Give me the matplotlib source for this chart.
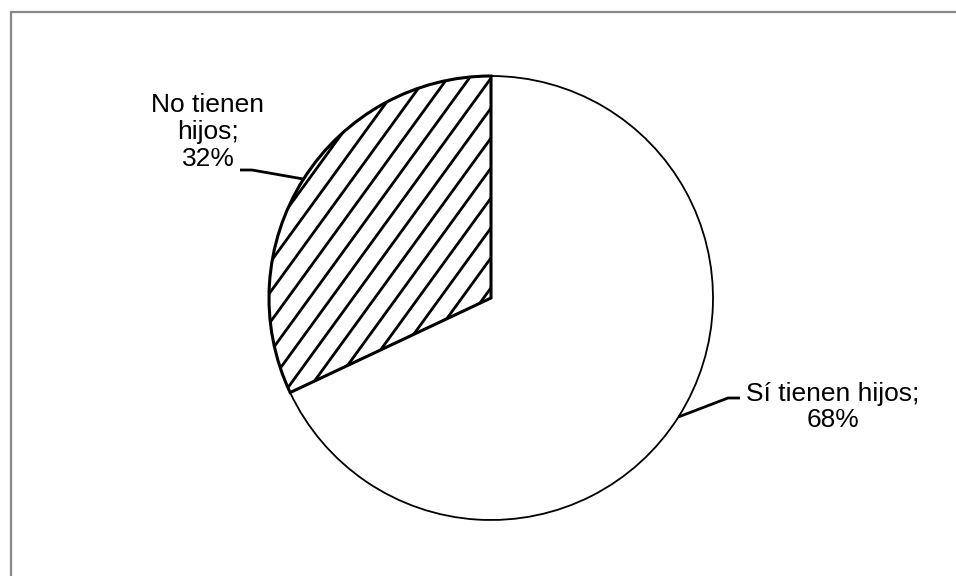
import numpy as np
import matplotlib.pyplot as plt
from matplotlib.patches import Rectangle

# Data
categories = ['Sí tienen hijos', 'No tienen hijos']
shares = [68, 32]
label_texts = ['Sí tienen hijos;\n68%', 'No tienen\nhijos;\n32%']

fig = plt.figure(figsize=(9.56, 5.76), dpi=100)
ax = fig.add_axes([0, 0, 1, 1])

cx, cy, r = 491, 278, 222
wedges, _ = ax.pie(shares, startangle=90, counterclock=False,
                   center=(cx, cy), radius=r,
                   colors=['white', 'white'],
                   wedgeprops=dict(edgecolor='black', linewidth=1.3))
wedges[1].set_linewidth(2.2)
wedges[1].set_zorder(3)
wedges[1].set_facecolor('none')

# hatch lines at the steeper angle of the original
ang = np.deg2rad(54)
d = np.array([np.cos(ang), np.sin(ang)])
n = np.array([-np.sin(ang), np.cos(ang)])
for k in np.arange(-16, 17):
    p = np.array([cx, cy]) + n * (k * 17.6 + 6)
    a, b = p - d * 300, p + d * 300
    ln, = ax.plot([a[0], b[0]], [a[1], b[1]], color='black', lw=2.0, zorder=2,
                  solid_capstyle='butt')
    ln.set_clip_path(wedges[1])

# labels with leader lines
font = dict(family=['Liberation Sans', 'DejaVu Sans'], fontsize=19)
text_pos = [(833, 169), (208, 444)]
elbows = [[(728, 178), (740, 178)], [(252, 406), (240, 406)]]
for w, txt, tp, el in zip(wedges, label_texts, text_pos, elbows):
    mid = np.deg2rad((w.theta1 + w.theta2) / 2)
    ex, ey = cx + r * np.cos(mid), cy + r * np.sin(mid)
    xs = [ex] + [p[0] for p in el]
    ys = [ey] + [p[1] for p in el]
    ax.plot(xs, ys, color='black', lw=2.0, zorder=4, solid_capstyle='butt')
    ax.text(tp[0], tp[1], txt, ha='center', va='center', multialignment='center',
            linespacing=1.15, **font)

# outer frame
ax.add_patch(Rectangle((11, -20), 1000, 576 - 12 + 20, fill=False,
                       edgecolor='#888888', lw=1.6, zorder=5))

ax.set_xlim(0, 956)
ax.set_ylim(0, 576)
ax.set_aspect('auto')
ax.axis('off')

fig.savefig('out.png', dpi=100)
